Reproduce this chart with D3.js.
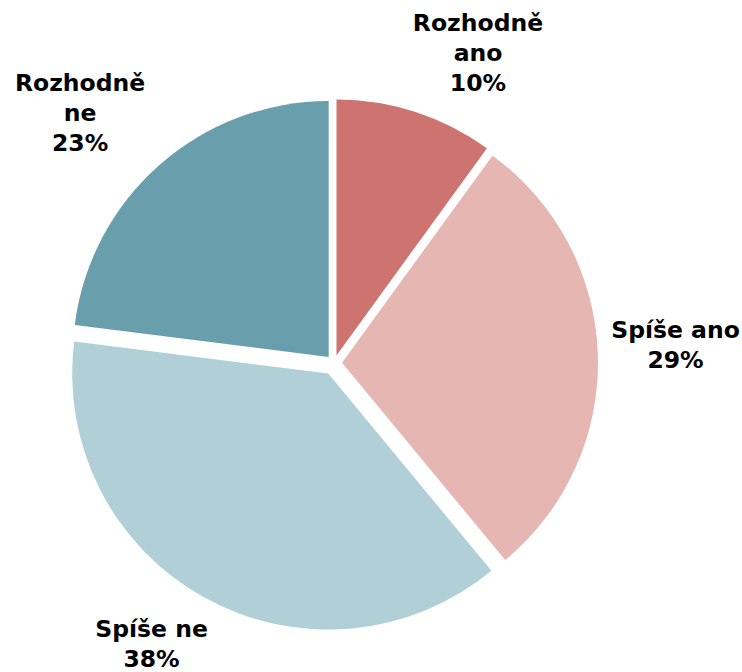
<!DOCTYPE html>
<html>
  <head>
    <meta charset="UTF-8" />
    <style>
      body { margin: 0; background: #ffffff; }
      .label { font-family: "DejaVu Sans", Verdana, sans-serif; font-weight: bold; font-size: 23.5px; fill: #000000; }
    </style>
  </head>
  <body>
    <svg></svg>
    <script src="https://d3js.org/d3.v7.min.js"></script>
    <script>
      // data
      const categories = ["Rozhodně ano", "Spíše ano", "Spíše ne", "Rozhodně ne"];
      const labelLines = [["Rozhodně", "ano"], ["Spíše ano"], ["Spíše ne"], ["Rozhodně", "ne"]];
      const values = [10, 29, 38, 23];
      const colors = ["#CD7470", "#E6B7B2", "#B0CFD6", "#699FAC"];

      // layout (slice explosion, label angle shift in degrees, label distance)
      const explode = [8, 8, 12, 8];
      const labelShift = [6.9, -1.2, 4.2, -4.1];
      const labelDist = [342, 342, 335, 356];

      let width = 742,
        height = 672,
        cx = 334,
        cy = 363,
        radius = 256;

      let svg = d3.select("svg").attr("width", width).attr("height", height);

      let pie = d3.pie().sort(null).value((d) => d)(values);
      let arc = d3.arc().innerRadius(0).outerRadius(radius);

      let g = svg.append("g").attr("transform", "translate(" + cx + "," + cy + ")");

      const mid = (d) => (d.startAngle + d.endAngle) / 2;

      g.selectAll("path")
        .data(pie)
        .join("path")
        .attr("d", arc)
        .attr("fill", (d, i) => colors[i])
        .attr("transform", (d, i) => {
          let a = mid(d);
          return "translate(" + explode[i] * Math.sin(a) + "," + -explode[i] * Math.cos(a) + ")";
        });

      let total = d3.sum(values);
      let lineH = 30;

      let labels = g.selectAll("text")
        .data(pie)
        .join("text")
        .attr("class", "label")
        .attr("text-anchor", "middle")
        .attr("transform", (d, i) => {
          let a = mid(d) + (labelShift[i] * Math.PI) / 180;
          let lx = labelDist[i] * Math.sin(a);
          let ly = -labelDist[i] * Math.cos(a);
          let n = labelLines[i].length + 1;
          // vertically centre the block of lines
          let top = ly - ((n - 1) * lineH) / 2 + 8;
          return "translate(" + lx + "," + top + ")";
        });

      labels.each(function (d, i) {
        let t = d3.select(this);
        let lines = labelLines[i].concat([Math.round((values[i] / total) * 100) + "%"]);
        lines.forEach((s, k) => {
          t.append("tspan").attr("x", 0).attr("y", k * lineH).text(s);
        });
      });
    </script>
  </body>
</html>
